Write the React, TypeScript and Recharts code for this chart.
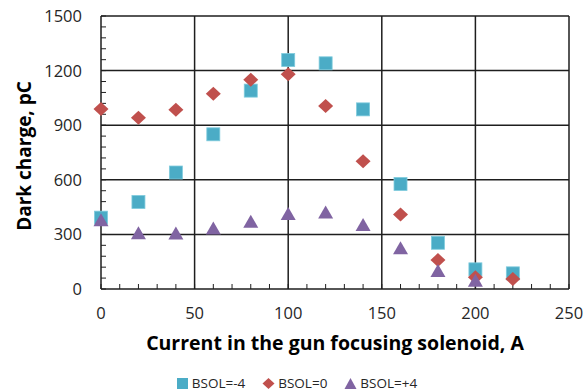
import React from "react";
import {
  ScatterChart,
  Scatter,
  XAxis,
  YAxis,
  ReferenceLine,
  Label,
} from "recharts";

const currents = [0, 20, 40, 60, 80, 100, 120, 140, 160, 180, 200, 220];
const bsolMinus4 = [392, 478, 640, 850, 1090, 1258, 1240, 987, 577, 254, 108, 86];
const bsolZero = [989, 941, 985, 1073, 1150, 1180, 1006, 702, 410, 159, 64, 55];
const currentsPlus4 = [0, 20, 40, 60, 80, 100, 120, 140, 160, 180, 200];
const bsolPlus4 = [378, 306, 305, 333, 370, 412, 421, 352, 224, 99, 46];

const xMajorTicks = [0, 50, 100, 150, 200, 250];
const xMinorTicks = [0, 10, 20, 30, 40, 50, 60, 70, 80, 90, 100, 110, 120, 130, 140, 150, 160, 170, 180, 190, 200, 210, 220, 230, 240, 250];
const yMajorTicks = [0, 300, 600, 900, 1200, 1500];
const yMinorTicks = [0, 60, 120, 180, 240, 300, 360, 420, 480, 540, 600, 660, 720, 780, 840, 900, 960, 1020, 1080, 1140, 1200, 1260, 1320, 1380, 1440, 1500];

const seriesNames = ["BSOL=-4", "BSOL=0", "BSOL=+4"];
const colors = ["#4BACC6", "#C0504D", "#8064A2"];

const dataMinus4 = currents.map((x, i) => ({ x, y: bsolMinus4[i] }));
const dataZero = currents.map((x, i) => ({ x, y: bsolZero[i] }));
const dataPlus4 = currentsPlus4.map((x, i) => ({ x, y: bsolPlus4[i] }));

const FONT = "'Open Sans', 'DejaVu Sans', sans-serif";
const GRID = "#1e1e1e";

const SquareShape = (p: any) => (
  <rect x={p.cx - 6.5} y={p.cy - 6.5} width={13} height={13} fill={colors[0]} stroke="#7FCBDD" strokeWidth={0.8} />
);
const DiamondShape = (p: any) => (
  <polygon
    points={`${p.cx},${p.cy - 7} ${p.cx + 7.5},${p.cy} ${p.cx},${p.cy + 7} ${p.cx - 7.5},${p.cy}`}
    fill={colors[1]}
  />
);
const TriangleShape = (p: any) => (
  <polygon
    points={`${p.cx},${p.cy - 7} ${p.cx + 7.5},${p.cy + 6} ${p.cx - 7.5},${p.cy + 6}`}
    fill={colors[2]}
  />
);

const XTick = (p: any) => {
  if (!xMajorTicks.includes(p.payload.value)) return <g />;
  return (
    <text x={p.x} y={p.y} textAnchor="middle" fontSize={16.5} fontFamily={FONT} fill="#262626">
      {p.payload.value}
    </text>
  );
};
const YTick = (p: any) => {
  if (!yMajorTicks.includes(p.payload.value)) return <g />;
  return (
    <text x={p.x} y={p.y} dy="0.36em" textAnchor="end" fontSize={16.5} fontFamily={FONT} fill="#262626">
      {p.payload.value}
    </text>
  );
};

export default function App() {
  return (
    <div style={{ position: "absolute", left: 0, top: 0, width: 585, height: 392, background: "#fff" }}>
      <ScatterChart width={585} height={392} margin={{ top: 16, right: 16, bottom: 73, left: 0 }}>
        <XAxis
          type="number"
          dataKey="x"
          domain={[0, 250]}
          ticks={xMinorTicks}
          interval={0}
          height={30}
          tickSize={-5}
          tickMargin={35}
          tick={<XTick />}
          axisLine={{ stroke: GRID, strokeWidth: 1.5 }}
          tickLine={{ stroke: GRID, strokeWidth: 1 }}
        >
          <Label
            content={(props: any) => {
              const vb = props.viewBox;
              return (
                <text
                  x={vb.x + vb.width / 2}
                  y={350}
                  textAnchor="middle"
                  fontSize={19.5}
                  fontWeight="bold"
                  fontFamily={FONT}
                  fill="#000"
                >
                  Current in the gun focusing solenoid, A
                </text>
              );
            }}
          />
        </XAxis>
        <YAxis
          type="number"
          dataKey="y"
          domain={[0, 1500]}
          ticks={yMinorTicks}
          interval={0}
          width={101}
          tickSize={-5}
          tickMargin={24}
          tick={<YTick />}
          axisLine={{ stroke: GRID, strokeWidth: 1.5 }}
          tickLine={{ stroke: GRID, strokeWidth: 1 }}
        >
          <Label
            content={() => (
              <text
                x={0}
                y={0}
                transform="translate(31,156) rotate(-90)"
                textAnchor="middle"
                fontSize={19}
                fontWeight="bold"
                fontFamily={FONT}
                fill="#000"
              >
                Dark charge, pC
              </text>
            )}
          />
        </YAxis>
        {xMajorTicks.slice(1).map((v) => (
          <ReferenceLine key={"vx" + v} x={v} stroke={GRID} strokeWidth={1.5} />
        ))}
        {yMajorTicks.slice(1).map((v) => (
          <ReferenceLine key={"hy" + v} y={v} stroke={GRID} strokeWidth={1.5} />
        ))}
        <Scatter name={seriesNames[0]} data={dataMinus4} shape={<SquareShape />} isAnimationActive={false} />
        <Scatter name={seriesNames[1]} data={dataZero} shape={<DiamondShape />} isAnimationActive={false} />
        <Scatter name={seriesNames[2]} data={dataPlus4} shape={<TriangleShape />} isAnimationActive={false} />
      </ScatterChart>
      <div
        style={{
          position: "absolute",
          left: 0,
          width: 585,
          top: 376,
          display: "flex",
          justifyContent: "center",
          paddingLeft: 8,
          boxSizing: "border-box",
          fontFamily: FONT,
          fontSize: 13.5,
          color: "#262626",
          lineHeight: "15px",
        }}
      >
        {seriesNames.map((n, i) => (
          <div key={n} style={{ display: "flex", alignItems: "center", marginRight: i < 2 ? 17 : 0 }}>
            <svg width={13} height={13} style={{ marginRight: 3 }}>
              {i === 0 && <rect x={1} y={1} width={11} height={11} fill={colors[0]} />}
              {i === 1 && <polygon points="6.5,1 12.5,6.5 6.5,12 0.5,6.5" fill={colors[1]} />}
              {i === 2 && <polygon points="6.5,1 12.5,12 0.5,12" fill={colors[2]} />}
            </svg>
            <span>{n}</span>
          </div>
        ))}
      </div>
    </div>
  );
}
